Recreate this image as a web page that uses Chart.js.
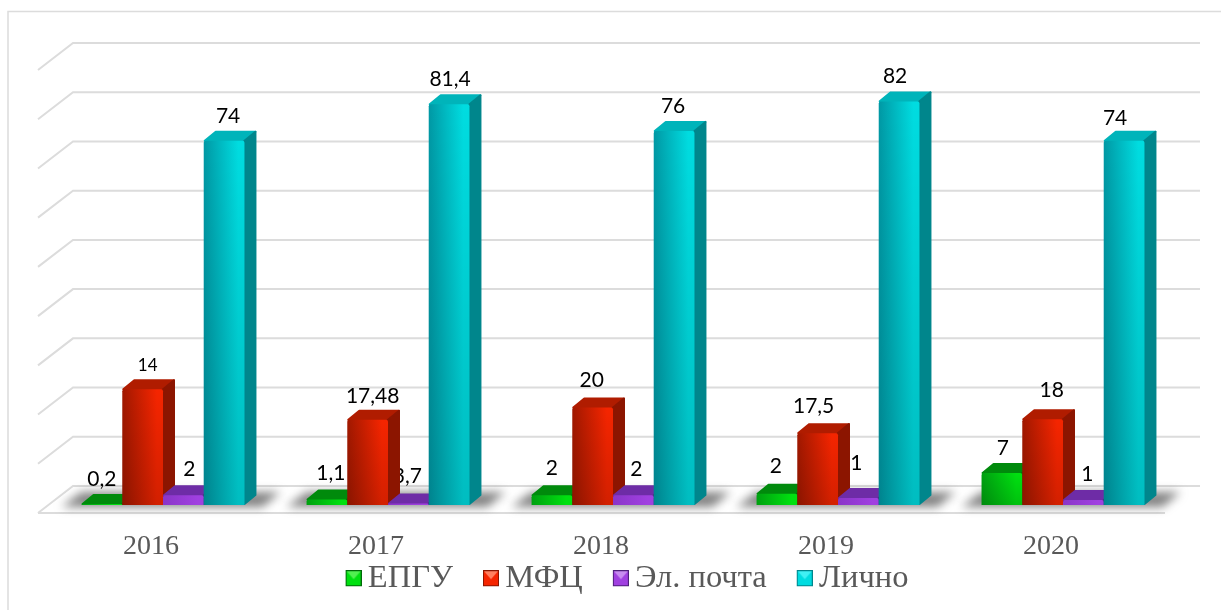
<!DOCTYPE html>
<html>
<head>
<meta charset="utf-8">
<script src="https://cdn.jsdelivr.net/npm/chart.js@4"></script>
<style>
  html, body { margin: 0; padding: 0; background: #fff; }
  canvas { display: block; }
</style>
</head>
<body>
<canvas id="appeal-chart" width="1221" height="610"></canvas>
<script>
const years = ["2016", "2017", "2018", "2019", "2020"];

// Bar heights as drawn in the picture. Some bars do not agree with their printed label
// (14 is drawn near 23.5, 17,5 near 14.6, 3,7 near 0.3), so the labels are kept separately.
const epgu = [0.2, 1.1, 2, 2.3, 6.5];
const mfc = [23.5, 17.3, 19.8, 14.6, 17.4];
const email = [2, 0.3, 2, 1.4, 1];
const personal = [74, 81.4, 76, 82, 74];

const epguLabels = ["0,2", "1,1", "2", "2", "7"];
const mfcLabels = ["14", "17,48", "20", "17,5", "18"];
const emailLabels = ["2", "3,7", "2", "1", "1"];
const personalLabels = ["74", "81,4", "76", "82", "74"];

const seriesNames = ["ЕПГУ", "МФЦ", "Эл. почта", "Лично"];

// bar colours: dark and bright front, top, side
const themes = [
  { dark: "#00a010", bright: "#00e010", top: "#008a0c", side: "#006a08", light: "#50f050" },
  { dark: "#a01800", bright: "#f52500", top: "#b01c00", side: "#8c1500", light: "#ff8060" },
  { dark: "#8a35c8", bright: "#a040e0", top: "#6e2ca6", side: "#4f1f7c", light: "#c88cf0" },
  { dark: "#0098a4", bright: "#00dce0", top: "#00b4ba", side: "#00868c", light: "#40f0f4" }
];

// hand placed labels in the original: [dx, dy] from the top centre of the bar
const labelNudge = [
  [[0, -26], [4, -27], [0, -28], [-1, -28], [1, -26]],
  [[5, -25], [5, -25], [-1, -28], [-4, -28], [9, -30]],
  [[6, -27], [-1, -28], [3, -27], [-2, -36], [4, -27]],
  [[4, -26], [1, -26], [-1, -26], [-4, -26], [-9, -24]]
];

const allLabels = [epguLabels, mfcLabels, emailLabels, personalLabels];
const depthX = 12, depthY = 10;
const lineColor = "#dcdcdc";

// bevelled legend marker, the free space on the left pulls the text closer to the box
function legendMarker(theme) {
  const c = document.createElement("canvas");
  c.width = 36;
  c.height = 17;
  const g = c.getContext("2d");
  const x = 20, s = 16;
  g.fillStyle = theme.bright;
  g.fillRect(x, 0, s, s);
  g.fillStyle = theme.light;
  g.beginPath();
  g.moveTo(x + 1, 1); g.lineTo(x + s - 1, 1); g.lineTo(x + s / 2, s / 2 + 1);
  g.fill();
  g.strokeStyle = theme.side;
  g.lineWidth = 1;
  g.strokeRect(x + 0.5, 0.5, s - 1, s - 1);
  return c;
}

// grid, floor and outer frame
function drawWalls(chart) {
  const ctx = chart.ctx;
  const y = chart.scales.y;
  ctx.save();
  ctx.strokeStyle = lineColor;
  ctx.lineWidth = 1.5;
  ctx.beginPath();
  ctx.moveTo(8, 610); ctx.lineTo(8, 11.5); ctx.lineTo(1221, 11.5);
  ctx.stroke();
  ctx.lineWidth = 2;
  y.ticks.forEach(t => {
    const py = y.getPixelForValue(t.value) - 19;
    ctx.beginPath();
    ctx.moveTo(38, py + 27); ctx.lineTo(73, py); ctx.lineTo(1200, py);
    ctx.stroke();
  });
  ctx.beginPath();
  ctx.moveTo(38, 513); ctx.lineTo(1165, 513);
  ctx.stroke();
  ctx.restore();
}

// soft shadow on the floor behind each group
function drawShadows(chart) {
  const ctx = chart.ctx;
  const first = chart.getDatasetMeta(0).data;
  const last = chart.getDatasetMeta(3).data;
  first.forEach((bar, i) => {
    const x0 = bar.x - bar.width / 2;
    const x1 = last[i].x + last[i].width / 2;
    const b = bar.base;
    ctx.save();
    ctx.filter = "blur(5px)";
    ctx.fillStyle = "rgba(90,90,90,0.75)";
    ctx.beginPath();
    ctx.moveTo(x0 - 20, b + 2);
    ctx.lineTo(x0, b - 13);
    ctx.lineTo(x1 + 36, b - 13);
    ctx.lineTo(x1 + 18, b + 2);
    ctx.closePath();
    ctx.fill();
    ctx.restore();
  });
}

function drawValueLabels(chart) {
  const ctx = chart.ctx;
  ctx.save();
  ctx.fillStyle = "#000";
  ctx.textAlign = "center";
  ctx.textBaseline = "middle";
  allLabels.forEach((labels, s) => {
    chart.getDatasetMeta(s).data.forEach((bar, i) => {
      const n = labelNudge[s][i];
      // the "14" is set smaller in the original
      ctx.font = (labels[i] === "14" ? "17px" : "21px") + " Lato";
      ctx.fillText(labels[i], bar.x + n[0], bar.y + n[1] + 1);
    });
  });
  ctx.restore();
}

function drawBar3d(ctx, bar, theme) {
  const x0 = bar.x - bar.width / 2;
  const x1 = bar.x + bar.width / 2;
  const top = bar.y, base = bar.base;

  ctx.lineJoin = "round";
  ctx.lineWidth = 2;

  // top face
  ctx.fillStyle = theme.top;
  ctx.strokeStyle = theme.top;
  ctx.beginPath();
  ctx.moveTo(x0 + 1, top);
  ctx.lineTo(x0 + depthX, top - depthY + 1);
  ctx.lineTo(x1 + depthX - 1, top - depthY + 1);
  ctx.lineTo(x1, top);
  ctx.closePath();
  ctx.fill();
  ctx.stroke();

  // side face
  ctx.fillStyle = theme.side;
  ctx.strokeStyle = theme.side;
  ctx.beginPath();
  ctx.moveTo(x1, top);
  ctx.lineTo(x1 + depthX - 1, top - depthY + 1);
  ctx.lineTo(x1 + depthX - 1, base - depthY);
  ctx.lineTo(x1, base - 1);
  ctx.closePath();
  ctx.fill();
  ctx.stroke();

  // front face, brighter to the right and to the top
  const front = ctx.createLinearGradient(x0, 0, x1, 0);
  front.addColorStop(0, theme.dark);
  front.addColorStop(0.85, theme.bright);
  front.addColorStop(1, theme.bright);
  ctx.fillStyle = front;
  ctx.beginPath();
  ctx.roundRect(x0, top, bar.width, base - top, [2, 2, 0, 0]);
  ctx.fill();
  if (base - top > 20) {
    const shade = ctx.createLinearGradient(0, top, 0, base);
    shade.addColorStop(0, "rgba(0,0,0,0)");
    shade.addColorStop(1, "rgba(0,0,0,0.14)");
    ctx.fillStyle = shade;
    ctx.beginPath();
    ctx.roundRect(x0, top, bar.width, base - top, [2, 2, 0, 0]);
    ctx.fill();
  }
}

const scene3d = {
  id: "scene3d",
  afterLayout(chart) {
    // legend sits off centre in the original and close under the year labels
    const legend = chart.legend;
    legend.left += 9;
    legend.right += 9;
    legend.top = 610 - legend.height - 5;
    // year labels get clipped to the axis box otherwise
    chart.scales.x.bottom = 570;
  },
  beforeDatasetsDraw(chart) {
    const ctx = chart.ctx;
    drawWalls(chart);
    drawShadows(chart);
    drawValueLabels(chart);
    ctx.save();
    // left to right per group, so each bar covers its left neighbour
    years.forEach((year, i) => {
      seriesNames.forEach((name, s) => {
        drawBar3d(ctx, chart.getDatasetMeta(s).data[i], themes[s]);
      });
    });
    ctx.restore();
    return false;
  }
};

const seriesValues = [epgu, mfc, email, personal];

new Chart(document.getElementById("appeal-chart"), {
  type: "bar",
  data: {
    labels: years,
    datasets: seriesNames.map((name, s) => ({
      label: name,
      data: seriesValues[s],
      backgroundColor: themes[s].bright,
      pointStyle: legendMarker(themes[s]),
      barPercentage: 1,
      categoryPercentage: 0.724
    }))
  },
  options: {
    responsive: false,
    animation: false,
    layout: { padding: { top: 62, left: 50.5, right: 45.5, bottom: 0 } },
    scales: {
      x: {
        grid: { display: false },
        border: { display: false },
        ticks: {
          color: "#595959",
          font: { family: "Liberation Serif", size: 28 },
          padding: 17,
          labelOffset: -12
        },
        afterFit(axis) {
          axis.height = 105 - axis.chart.legend.height;
        }
      },
      y: {
        display: false,
        min: 0,
        max: 90,
        ticks: { stepSize: 10 }
      }
    },
    plugins: {
      tooltip: { enabled: false },
      legend: {
        position: "bottom",
        labels: {
          usePointStyle: true,
          pointStyleWidth: 16,
          padding: 20,
          color: "#595959",
          font: { family: "Liberation Serif", size: 32.5 }
        }
      }
    }
  },
  plugins: [scene3d]
});
</script>
</body>
</html>
